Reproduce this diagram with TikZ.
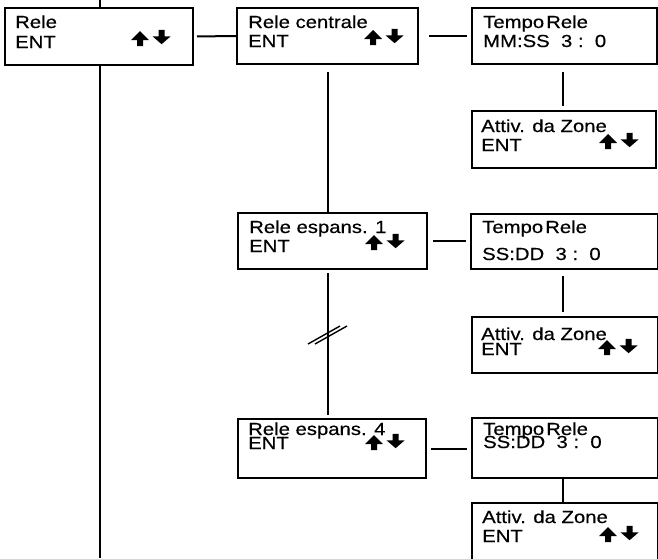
\documentclass[tikz,border=0pt]{standalone}
\usepackage{fontspec}
\setmainfont{Liberation Sans}[FakeStretch=1.16,FakeBold=0.4]

\tikzset{
    lcd/.style={draw,line width=2pt,inner sep=0pt,anchor=north west},
    riga/.style={anchor=base west,inner sep=0pt,
        font=\fontsize{17.5}{20}\selectfont},
    conn/.style={line width=2pt},
    pics/frecce/.style={code={
        \fill (-2.5,0) -- (-2.5,-5) -- (-7.5,-5) -- (0,-12.5)
            -- (7.5,-5) -- (2.5,-5) -- (2.5,0) -- cycle;
        \fill (15.5,-13.5) -- (15.5,-8) -- (10.5,-8) -- (18,-1.5)
            -- (25.5,-8) -- (20.5,-8) -- (20.5,-13.5) -- cycle;
    }}
}

\begin{document}
\begin{tikzpicture}[x=1pt,y=-1pt,line cap=butt,line join=miter]
        \useasboundingbox (0,0) rectangle (658,558);

        % Display del menu principale
        \node[lcd,minimum width=188pt,minimum height=57pt] (rele) at (4,7) {};
        \node[riga] (releA) at ([shift={(11,21)}]rele.north west) {Rele};
        \node[riga] (releB) at ([shift={(11,41)}]rele.north west) {ENT};
        \pic[scale=1.2] at ([shift={(125,-2)}]releB.base west) {frecce};

        % Rele centrale
        \node[lcd,minimum width=181pt,minimum height=56pt] (relec) at (236,7) {};
        \node[riga] (relecA) at ([shift={(12,21)}]relec.north west) {Rele centrale};
        \node[riga] (relecB) at ([shift={(12,40)}]relec.north west) {ENT};
        \pic[scale=1.2] at ([shift={(125,-2)}]relecB.base west) {frecce};

        \node[lcd,minimum width=185pt,minimum height=56pt] (tempoA) at (471,7) {};
        \node[riga] (tempoAa) at ([shift={(12,21)}]tempoA.north west)
            {Tempo\hspace{0.12em}Rele};
        \node[riga] (tempoAb) at ([shift={(12,40)}]tempoA.north west)
            {MM:SS\ \ 3 :\ \ 0};

        \node[lcd,minimum width=184pt,minimum height=57pt] (attivA) at (471,110) {};
        \node[riga] (attivAa) at ([shift={(10,22)}]attivA.north west) {Attiv. da Zone};
        \node[riga] (attivAb) at ([shift={(10,41)}]attivA.north west) {ENT};
        \pic[scale=1.2] at ([shift={(127,-2)}]attivAb.base west) {frecce};

        % Rele espansione 1
        \node[lcd,minimum width=189pt,minimum height=56pt] (espA) at (237,212) {};
        \node[riga] (espAa) at ([shift={(12,21)}]espA.north west) {Rele espans. 1};
        \node[riga] (espAb) at ([shift={(12,40)}]espA.north west) {ENT};
        \pic[scale=1.2] at ([shift={(125,-2)}]espAb.base west) {frecce};

        \node[lcd,minimum width=187pt,minimum height=55pt] (tempoB) at (470,213) {};
        \node[riga] (tempoBa) at ([shift={(12,20)}]tempoB.north west)
            {Tempo\hspace{0.12em}Rele};
        \node[riga] (tempoBb) at ([shift={(12,47)}]tempoB.north west)
            {SS:DD\ \ 3 :\ \ 0};

        \node[lcd,minimum width=186pt,minimum height=56pt] (attivB) at (471,316) {};
        \node[riga] (attivBa) at ([shift={(10,24)}]attivB.north west) {Attiv. da Zone};
        \node[riga] (attivBb) at ([shift={(10,39)}]attivB.north west) {ENT};
        \pic[scale=1.2] at ([shift={(126,0)}]attivBb.base west) {frecce};

        % Rele espansione 4
        \node[lcd,minimum width=188pt,minimum height=59pt] (espB) at (237,418) {};
        \node[riga] (espBa) at ([shift={(11,17)}]espB.north west) {Rele espans. 4};
        \node[riga] (espBb) at ([shift={(11,31)}]espB.north west) {ENT};
        \pic[scale=1.2] at ([shift={(126,1)}]espBb.base west) {frecce};

        \node[lcd,minimum width=186pt,minimum height=60pt] (tempoC) at (471,417) {};
        \node[riga] (tempoCa) at ([shift={(12,18)}]tempoC.north west)
            {Tempo\hspace{0.12em}Rele};
        \node[riga] (tempoCb) at ([shift={(12,31)}]tempoC.north west)
            {SS:DD\ \ 3 :\ \ 0};

        \node[lcd,minimum width=186pt,minimum height=70pt] (attivC) at (471,502) {};
        \node[riga] (attivCa) at ([shift={(11,21)}]attivC.north west) {Attiv. da Zone};
        \node[riga] (attivCb) at ([shift={(11,40)}]attivC.north west) {ENT};
        \pic[scale=1.2] at ([shift={(126,0)}]attivCb.base west) {frecce};

        % Collegamenti
        \coordinate (alto) at (100,0);
        \coordinate (basso) at (100,558);
        \draw[conn] (alto) -- (alto |- rele.north);
        \draw[conn] (basso |- rele.south) -- (basso);
        \draw[conn,shorten <=3pt] (rele.east) -- (relec.west);
        \draw[conn,shorten <=10pt,shorten >=4pt] (relec.east) -- (tempoA.west);
        \draw[conn,shorten <=5pt,shorten >=4pt] (espA.east) -- (espA.east -| tempoB.west);
        \draw[conn,shorten <=4pt,shorten >=4pt] (espB.east) -- (espB.east -| tempoC.west);

        \draw[conn,shorten <=7pt] (relec.south) -- (relec.south |- espA.north);
        \draw[conn,shorten <=3pt,shorten >=3pt] (relec.south |- espA.south)
            -- (relec.south |- espB.north);
        \draw[conn,shorten <=7pt,shorten >=4pt] ([xshift=-2pt]tempoA.south)
            -- ([xshift=-2pt]tempoA.south |- attivA.north);
        \draw[conn,shorten <=6pt,shorten >=4pt] ([xshift=-2pt]tempoB.south)
            -- ([xshift=-2pt]tempoB.south |- attivB.north);
        \draw[conn] ([xshift=-2pt]tempoC.south)
            -- ([xshift=-2pt]tempoC.south |- attivC.north);

        % Interruzione della sequenza
        \coordinate (salto) at (relec.south |- 0,335);
        \foreach \dx in {-3.5,3.5} {
            \draw[line width=1.4pt] ([shift={(\dx-16,9)}]salto)
                -- ([shift={(\dx+16,-9)}]salto);
        }
    \end{tikzpicture}
\end{document}
